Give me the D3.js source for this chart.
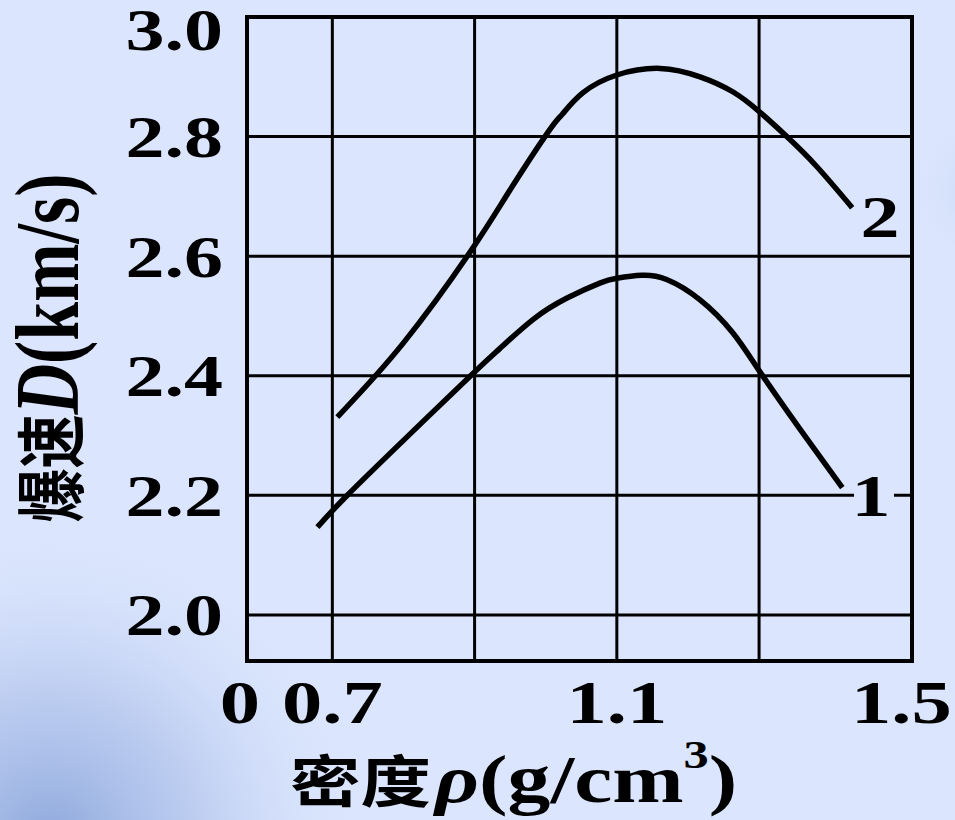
<!DOCTYPE html>
<html>
<head>
<meta charset="utf-8">
<script src="https://cdn.jsdelivr.net/npm/d3@7"></script>
<style>
  html, body { margin: 0; padding: 0; background: #dbe5fd; }
  svg { display: block; }
</style>
</head>
<body>
<svg id="chart" width="955" height="820"></svg>
<script>
// Detonation velocity vs. charge density, two curves
const yTicks = [2.0, 2.2, 2.4, 2.6, 2.8, 3.0];
const xGrid = [0.7, 0.9, 1.1, 1.3];
const xLabels = [0.7, 1.1, 1.5];

const curve1Rho = [0.679, 0.720, 0.800, 0.897, 0.935, 0.982, 1.030, 1.076, 1.100, 1.135, 1.170, 1.217, 1.263, 1.301, 1.358, 1.417];
const curve1D   = [2.147, 2.199, 2.292, 2.403, 2.445, 2.494, 2.530, 2.555, 2.563, 2.568, 2.561, 2.527, 2.472, 2.407, 2.310, 2.213];

const curve2Rho = [0.707, 0.800, 0.896, 0.950, 1.003, 1.023, 1.052, 1.100, 1.161, 1.217, 1.263, 1.300, 1.339, 1.381, 1.431];
const curve2D   = [2.331, 2.455, 2.611, 2.711, 2.807, 2.837, 2.873, 2.903, 2.914, 2.900, 2.875, 2.842, 2.800, 2.750, 2.681];

const curveNames = ["1", "2"];

const svg = d3.select("#chart");
const W = 955, H = 820;
const bg = "#dbe5fd";

// background with a soft blue haze in the lower-left corner
const defs = svg.append("defs");
const haze = defs.append("radialGradient").attr("id", "haze")
  .attr("cx", 50).attr("cy", 840).attr("r", 320).attr("gradientUnits", "userSpaceOnUse");
haze.append("stop").attr("offset", "0").attr("stop-color", "#8aa5da").attr("stop-opacity", 0.95);
haze.append("stop").attr("offset", "0.45").attr("stop-color", "#a7bce8").attr("stop-opacity", 0.6);
haze.append("stop").attr("offset", "1").attr("stop-color", bg).attr("stop-opacity", 0);
const haze2 = defs.append("radialGradient").attr("id", "haze2")
  .attr("cx", 985).attr("cy", 190).attr("r", 80).attr("gradientUnits", "userSpaceOnUse");
haze2.append("stop").attr("offset", "0").attr("stop-color", "#c6d3f3").attr("stop-opacity", 0.8);
haze2.append("stop").attr("offset", "1").attr("stop-color", bg).attr("stop-opacity", 0);

svg.append("rect").attr("width", W).attr("height", H).attr("fill", bg);
svg.append("rect").attr("width", W).attr("height", H).attr("fill", "url(#haze)");
svg.append("rect").attr("width", W).attr("height", H).attr("fill", "url(#haze2)");

const x = d3.scaleLinear().domain([0.58, 1.515]).range([247, 912]);
const y = d3.scaleLinear().domain([1.923, 3.0]).range([661, 17]);

const serif = "'Liberation Serif', 'Times New Roman', serif";
const cjk = "'Noto Sans CJK SC', 'Noto Sans CJK JP', sans-serif";
const sx = 1.3; // horizontal stretch of the lettering

// grid
const grid = svg.append("g").attr("stroke", "#000").attr("stroke-width", 3);
grid.selectAll("line.h").data(yTicks.filter(d => d < 3.0)).join("line")
  .attr("x1", x.range()[0]).attr("x2", x.range()[1])
  .attr("y1", d => y(d)).attr("y2", d => y(d));
grid.selectAll("line.v").data(xGrid).join("line")
  .attr("x1", d => x(d)).attr("x2", d => x(d))
  .attr("y1", y.range()[0]).attr("y2", y.range()[1]);

// frame
svg.append("rect")
  .attr("x", x.range()[0]).attr("y", y.range()[1])
  .attr("width", x.range()[1] - x.range()[0])
  .attr("height", y.range()[0] - y.range()[1])
  .attr("fill", "none").attr("stroke", "#000").attr("stroke-width", 4);

// y tick labels (the top one sits just below the frame edge)
svg.append("g").selectAll("text").data(yTicks).join("text")
  .attr("transform", d => `translate(223,${Math.max(y(d), 30)}) scale(${sx},1)`)
  .attr("text-anchor", "end")
  .attr("dy", "0.34em")
  .attr("font-family", serif).attr("font-weight", "bold")
  .attr("font-size", 60)
  .text(d => d3.format(".1f")(d));

// x tick labels
svg.append("g").selectAll("text").data(xLabels).join("text")
  .attr("transform", d => `translate(${x(d)},723) scale(${sx},1)`)
  .attr("text-anchor", "middle")
  .attr("font-family", serif).attr("font-weight", "bold")
  .attr("font-size", 62)
  .text(d => d3.format(".1f")(d));
svg.append("text")
  .attr("transform", `translate(240,723) scale(${sx},1)`)
  .attr("text-anchor", "middle")
  .attr("font-family", serif).attr("font-weight", "bold")
  .attr("font-size", 62)
  .text("0");

// curves
const line = d3.line().x(d => x(d[0])).y(d => y(d[1])).curve(d3.curveNatural);
const series = [d3.zip(curve1Rho, curve1D), d3.zip(curve2Rho, curve2D)];
svg.append("g").selectAll("path").data(series).join("path")
  .attr("d", line)
  .attr("fill", "none").attr("stroke", "#000")
  .attr("stroke-width", 5.5).attr("stroke-linecap", "butt");

// curve labels
const lab1 = svg.append("g").attr("transform", `translate(871,${y(2.2)})`);
lab1.append("rect").attr("x", -17).attr("y", -6).attr("width", 40).attr("height", 12).attr("fill", bg);
lab1.append("text")
  .attr("transform", `scale(${sx},1)`)
  .attr("text-anchor", "middle").attr("dy", "0.34em")
  .attr("font-family", serif).attr("font-weight", "bold").attr("font-size", 60)
  .text(curveNames[0]);
svg.append("text")
  .attr("transform", `translate(880,${y(2.68) + 8}) scale(${sx},1)`)
  .attr("text-anchor", "middle").attr("dy", "0.34em")
  .attr("font-family", serif).attr("font-weight", "bold").attr("font-size", 60)
  .text(curveNames[1]);

// axis titles
const xt = svg.append("text")
  .attr("transform", `translate(290,802) scale(1.26,1)`)
  .attr("font-weight", "bold").attr("font-size", 68);
xt.append("tspan").attr("font-family", cjk).attr("font-size", 56).text("密度");
xt.append("tspan").attr("font-family", serif).attr("font-style", "italic").attr("dx", 3).text("ρ");
xt.append("tspan").attr("font-family", serif).text("(g/cm");
xt.append("tspan").attr("font-family", serif).attr("font-size", 40).attr("dy", -34).text("3");
xt.append("tspan").attr("font-family", serif).attr("dy", 34).text(")");

const yt = svg.append("text")
  .attr("transform", `translate(78,348) scale(1.3,1) rotate(-90)`)
  .attr("text-anchor", "middle")
  .attr("font-weight", "bold").attr("font-size", 70);
yt.append("tspan").attr("font-family", cjk).attr("font-size", 54).text("爆速");
yt.append("tspan").attr("font-family", serif).attr("font-style", "italic").text("D");
yt.append("tspan").attr("font-family", serif).text("(km/s)");
</script>
</body>
</html>
